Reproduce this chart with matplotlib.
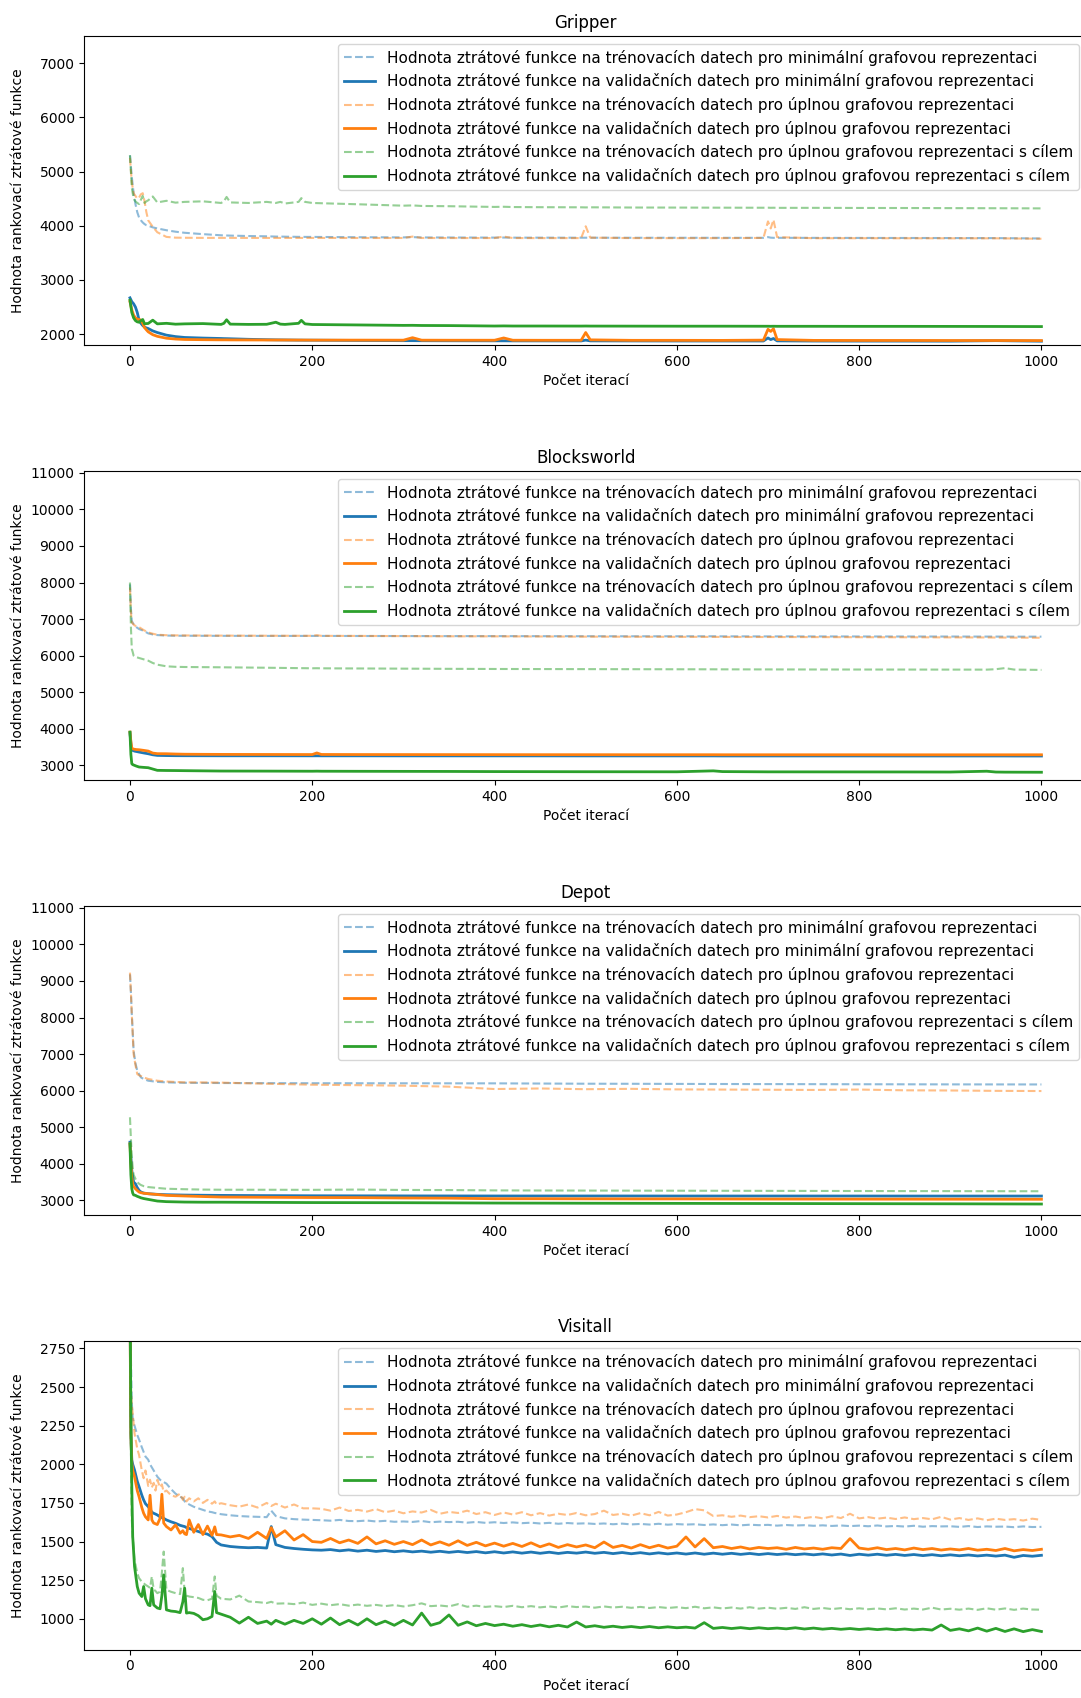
import matplotlib
matplotlib.use("Agg")
import matplotlib.pyplot as plt
import numpy as np

# ---------------- labels ----------------
titles = ["Gripper", "Blocksworld", "Depot", "Visitall"]
x_label = "Počet iterací"
y_label = "Hodnota rankovací ztrátové funkce"
legend_labels = [
    "Hodnota ztrátové funkce na trénovacích datech pro minimální grafovou reprezentaci",
    "Hodnota ztrátové funkce na validačních datech pro minimální grafovou reprezentaci",
    "Hodnota ztrátové funkce na trénovacích datech pro úplnou grafovou reprezentaci",
    "Hodnota ztrátové funkce na validačních datech pro úplnou grafovou reprezentaci",
    "Hodnota ztrátové funkce na trénovacích datech pro úplnou grafovou reprezentaci s cílem",
    "Hodnota ztrátové funkce na validačních datech pro úplnou grafovou reprezentaci s cílem",
]

# ---------------- Gripper ----------------
gripper_iters = [0, 2, 4, 6, 8, 10, 12, 14, 16, 18,
                 20, 25, 30, 40, 50, 60, 80, 100, 103, 106,
                 110, 130, 150, 160, 165, 170, 185, 188, 192, 200,
                 250, 300, 310, 320, 350, 400, 410, 420, 450, 495,
                 500, 505, 550, 600, 650, 695, 700, 703, 706, 710,
                 750, 800, 850, 900, 950, 1000]
gripper_train_min = [5300, 4900, 4600, 4400, 4250, 4150, 4100, 4060, 4030, 4010,
                     4000, 3970, 3950, 3917, 3890, 3870, 3845, 3824, 3822, 3820,
                     3818, 3810, 3805, 3800, 3800, 3798, 3795, 3795, 3794, 3794,
                     3788, 3785, 3790, 3784, 3783, 3781, 3782, 3780, 3780, 3779,
                     3779, 3779, 3778, 3778, 3777, 3777, 3790, 3780, 3777, 3777,
                     3776, 3775, 3774, 3773, 3772, 3765]
gripper_val_min = [2670, 2600, 2560, 2500, 2400, 2258, 2200, 2160, 2130, 2115,
                   2104, 2060, 2030, 1982, 1955, 1939, 1928, 1920, 1918, 1917,
                   1915, 1905, 1898, 1895, 1894, 1893, 1890, 1890, 1889, 1889,
                   1884, 1880, 1880, 1879, 1878, 1877, 1877, 1876, 1876, 1875,
                   1890, 1876, 1875, 1874, 1874, 1874, 1930, 1900, 1920, 1876,
                   1873, 1872, 1872, 1871, 1880, 1870]
gripper_train_full = [5250, 4800, 4600, 4550, 4500, 4520, 4580, 4600, 4450, 4250,
                      4100, 3980, 3880, 3794, 3780, 3778, 3776, 3776, 3776, 3776,
                      3776, 3775, 3775, 3775, 3775, 3775, 3775, 3775, 3775, 3775,
                      3774, 3774, 3800, 3774, 3773, 3773, 3800, 3773, 3772, 3772,
                      3990, 3780, 3772, 3771, 3771, 3775, 4080, 3950, 4110, 3790,
                      3770, 3770, 3769, 3768, 3768, 3760]
gripper_val_full = [2600, 2450, 2350, 2300, 2280, 2270, 2260, 2200, 2120, 2080,
                    2043, 1990, 1960, 1925, 1910, 1902, 1898, 1895, 1895, 1895,
                    1894, 1893, 1892, 1892, 1892, 1892, 1891, 1891, 1891, 1890,
                    1890, 1889, 1935, 1889, 1888, 1888, 1930, 1888, 1887, 1887,
                    2030, 1895, 1886, 1886, 1885, 1890, 2090, 2050, 2100, 1900,
                    1885, 1884, 1884, 1883, 1883, 1882]
gripper_train_goal = [5300, 4700, 4500, 4450, 4420, 4400, 4480, 4550, 4420, 4450,
                      4469, 4540, 4430, 4460, 4426, 4440, 4450, 4420, 4450, 4531,
                      4430, 4420, 4440, 4420, 4440, 4410, 4440, 4510, 4440, 4420,
                      4396, 4370, 4375, 4365, 4360, 4347, 4350, 4345, 4342, 4340,
                      4338, 4340, 4336, 4335, 4333, 4332, 4333, 4331, 4332, 4330,
                      4330, 4328, 4327, 4325, 4323, 4320]
gripper_val_goal = [2626, 2400, 2300, 2250, 2227, 2220, 2250, 2270, 2190, 2195,
                    2197, 2258, 2190, 2200, 2184, 2190, 2195, 2180, 2200, 2265,
                    2185, 2180, 2182, 2220, 2185, 2180, 2200, 2255, 2190, 2178,
                    2170, 2162, 2163, 2160, 2158, 2150, 2152, 2150, 2150, 2149,
                    2150, 2149, 2148, 2147, 2147, 2146, 2146, 2145, 2146, 2145,
                    2145, 2144, 2144, 2143, 2142, 2140]

# ---------------- Blocksworld ----------------
blocks_iters = [0, 1, 2, 3, 4, 5, 7, 10, 15, 20,
                25, 30, 40, 50, 60, 80, 100, 150, 200, 205,
                210, 250, 300, 350, 400, 450, 500, 550, 600, 640,
                650, 700, 750, 800, 850, 900, 940, 950, 960, 970,
                1000]
blocks_train_min = [7950, 7300, 6954, 6900, 6860, 6818, 6780, 6727, 6680, 6609,
                    6580, 6563, 6550, 6545, 6545, 6543, 6542, 6540, 6540, 6540,
                    6540, 6538, 6537, 6535, 6535, 6533, 6532, 6530, 6530, 6530,
                    6528, 6527, 6526, 6525, 6524, 6523, 6522, 6522, 6521, 6520,
                    6520]
blocks_val_min = [3891, 3600, 3420, 3409, 3400, 3390, 3380, 3364, 3340, 3318,
                  3290, 3273, 3268, 3265, 3264, 3263, 3262, 3262, 3261, 3262,
                  3261, 3261, 3260, 3260, 3260, 3260, 3259, 3259, 3259, 3259,
                  3258, 3258, 3258, 3258, 3257, 3257, 3257, 3257, 3257, 3256,
                  3256]
blocks_train_full = [7863, 7200, 6909, 6880, 6850, 6830, 6800, 6780, 6700, 6636,
                     6600, 6572, 6560, 6555, 6553, 6550, 6548, 6545, 6543, 6560,
                     6542, 6540, 6535, 6530, 6528, 6525, 6520, 6518, 6515, 6513,
                     6512, 6510, 6508, 6505, 6503, 6500, 6498, 6496, 6495, 6493,
                     6490]
blocks_val_full = [3909, 3650, 3460, 3455, 3445, 3440, 3432, 3427, 3410, 3391,
                   3336, 3320, 3318, 3310, 3305, 3302, 3300, 3298, 3296, 3340,
                   3298, 3296, 3295, 3294, 3293, 3292, 3292, 3291, 3291, 3291,
                   3290, 3290, 3290, 3290, 3289, 3289, 3289, 3289, 3289, 3289,
                   3290]
blocks_train_goal = [8000, 6800, 6182, 6100, 6000, 5980, 5960, 5936, 5900, 5863,
                     5800, 5754, 5709, 5695, 5690, 5686, 5682, 5670, 5655, 5657,
                     5654, 5650, 5645, 5640, 5636, 5634, 5632, 5630, 5628, 5627,
                     5626, 5624, 5622, 5621, 5620, 5619, 5618, 5630, 5660, 5620,
                     5610]
blocks_val_goal = [3909, 3300, 3045, 3020, 3010, 3000, 2980, 2955, 2945, 2936,
                   2900, 2864, 2860, 2858, 2855, 2850, 2845, 2843, 2840, 2842,
                   2840, 2838, 2836, 2834, 2830, 2828, 2826, 2825, 2824, 2850,
                   2830, 2823, 2822, 2821, 2820, 2818, 2840, 2818, 2815, 2814,
                   2812]

# ---------------- Depot ----------------
depot_iters = [0, 1, 2, 3, 4, 6, 8, 10, 12, 15,
               20, 30, 40, 60, 80, 100, 150, 200, 250, 300,
               350, 400, 450, 500, 550, 600, 650, 700, 750, 800,
               850, 900, 950, 1000]
depot_train_min = [9182, 8700, 8090, 7600, 7090, 6750, 6545, 6450, 6363, 6320,
                   6272, 6240, 6227, 6215, 6212, 6209, 6206, 6204, 6203, 6202,
                   6201, 6200, 6195, 6190, 6188, 6185, 6182, 6180, 6178, 6176,
                   6174, 6172, 6171, 6170]
depot_val_min = [4591, 4200, 3818, 3650, 3500, 3454, 3350, 3273, 3230, 3200,
                 3182, 3165, 3155, 3145, 3140, 3136, 3130, 3126, 3124, 3122,
                 3121, 3120, 3120, 3120, 3120, 3119, 3119, 3119, 3119, 3119,
                 3118, 3118, 3118, 3118]
depot_train_full = [9227, 8700, 8090, 7550, 7000, 6700, 6454, 6420, 6400, 6363,
                    6320, 6272, 6250, 6227, 6225, 6220, 6190, 6163, 6150, 6136,
                    6110, 6045, 6060, 6040, 6050, 6035, 6030, 6025, 6020, 6030,
                    6010, 6005, 5995, 5990]
depot_val_full = [4545, 4000, 3636, 3450, 3380, 3318, 3270, 3227, 3210, 3195,
                  3182, 3160, 3136, 3120, 3105, 3091, 3085, 3078, 3075, 3065,
                  3060, 3045, 3045, 3042, 3040, 3040, 3038, 3036, 3035, 3034,
                  3033, 3032, 3031, 3030]
depot_train_goal = [5272, 4700, 4182, 3900, 3700, 3591, 3500, 3454, 3420, 3390,
                    3364, 3340, 3318, 3305, 3295, 3291, 3290, 3288, 3295, 3285,
                    3282, 3273, 3270, 3268, 3266, 3264, 3262, 3260, 3258, 3256,
                    3254, 3253, 3251, 3250]
depot_val_goal = [4545, 3700, 3318, 3200, 3150, 3136, 3110, 3091, 3070, 3050,
                  3027, 2982, 2965, 2954, 2950, 2950, 2945, 2940, 2938, 2936,
                  2932, 2927, 2925, 2922, 2920, 2918, 2916, 2914, 2912, 2910,
                  2908, 2906, 2903, 2900]

# ---------------- Visitall ----------------
visitall_iters = [0, 1, 2, 3, 5, 8, 10, 13, 15, 17,
                  20, 22, 24, 26, 28, 30, 33, 35, 37, 40,
                  45, 50, 55, 58, 60, 62, 65, 70, 75, 80,
                  85, 90, 93, 95, 100, 110, 120, 130, 140, 150,
                  155, 160, 170, 180, 190, 200,
                  210, 220, 230, 240, 250, 260, 270, 280, 290, 300,
                  310, 320, 330, 340, 350, 360, 370, 380, 390, 400,
                  410, 420, 430, 440, 450, 460, 470, 480, 490, 500,
                  510, 520, 530, 540, 550, 560, 570, 580, 590, 600,
                  610, 620, 630, 640, 650, 660, 670, 680, 690, 700,
                  710, 720, 730, 740, 750, 760, 770, 780, 790, 800,
                  810, 820, 830, 840, 850, 860, 870, 880, 890, 900,
                  910, 920, 930, 940, 950, 960, 970, 980, 990, 1000]
visitall_train_min = [3400, 2700, 2400, 2300, 2250, 2190, 2160, 2110, 2080, 2050,
                      2030, 2000, 1980, 1960, 1940, 1920, 1900, 1890, 1885, 1875,
                      1840, 1810, 1790, 1780, 1760, 1750, 1740, 1725, 1715, 1705,
                      1695, 1690, 1685, 1683, 1677, 1670, 1665, 1662, 1660, 1658,
                      1700, 1665, 1650, 1645, 1642, 1640,
                      1638, 1635, 1640, 1633, 1632, 1636, 1630, 1634, 1628, 1630,
                      1627, 1633, 1625, 1629, 1626, 1628, 1622, 1627, 1621, 1625,
                      1620, 1624, 1619, 1622, 1617, 1621, 1615, 1620, 1616, 1618,
                      1614, 1617, 1612, 1616, 1611, 1614, 1610, 1615, 1609, 1613,
                      1610, 1612, 1607, 1611, 1606, 1610, 1605, 1609, 1606, 1608,
                      1603, 1607, 1604, 1606, 1602, 1605, 1601, 1604, 1600, 1603,
                      1599, 1604, 1598, 1601, 1597, 1602, 1596, 1600, 1598, 1599,
                      1595, 1600, 1594, 1598, 1596, 1597, 1593, 1598, 1594, 1595]
visitall_val_min = [3100, 2200, 2028, 2000, 1963, 1890, 1855, 1800, 1769, 1745,
                    1726, 1710, 1690, 1683, 1678, 1672, 1660, 1655, 1650, 1640,
                    1628, 1618, 1605, 1600, 1597, 1590, 1585, 1575, 1565, 1555,
                    1548, 1532, 1510, 1495, 1478, 1468, 1463, 1460, 1462, 1458,
                    1597, 1480, 1462, 1455, 1450, 1446,
                    1444, 1448, 1440, 1446, 1438, 1444, 1436, 1442, 1434, 1440,
                    1433, 1438, 1431, 1437, 1430, 1436, 1429, 1435, 1427, 1434,
                    1426, 1433, 1425, 1432, 1424, 1431, 1423, 1430, 1425, 1432,
                    1424, 1430, 1422, 1429, 1421, 1428, 1420, 1427, 1420, 1426,
                    1419, 1426, 1418, 1425, 1418, 1424, 1417, 1423, 1416, 1422,
                    1416, 1421, 1415, 1420, 1414, 1420, 1413, 1419, 1410, 1418,
                    1412, 1418, 1411, 1417, 1410, 1416, 1409, 1415, 1408, 1414,
                    1408, 1413, 1407, 1412, 1406, 1412, 1398, 1410, 1405, 1411]
visitall_train_full = [3300, 2500, 2380, 2330, 2200, 2100, 2060, 1960, 1910, 1960,
                       1860, 1900, 1850, 1880, 1830, 1900, 1850, 1870, 1820, 1830,
                       1800, 1790, 1810, 1770, 1790, 1760, 1780, 1760, 1780, 1750,
                       1770, 1745, 1760, 1740, 1748, 1735, 1726, 1740, 1720, 1750,
                       1730, 1745, 1720, 1740, 1715, 1715,
                       1712, 1700, 1720, 1698, 1705, 1694, 1710, 1690, 1700, 1683,
                       1695, 1688, 1705, 1680, 1692, 1685, 1700, 1678, 1690, 1672,
                       1688, 1675, 1690, 1670, 1684, 1668, 1680, 1672, 1685, 1670,
                       1678, 1700, 1672, 1680, 1668, 1684, 1670, 1692, 1668, 1675,
                       1690, 1710, 1702, 1665, 1670, 1660, 1668, 1658, 1664, 1656,
                       1666, 1655, 1662, 1652, 1660, 1650, 1664, 1652, 1680, 1650,
                       1658, 1648, 1655, 1646, 1656, 1645, 1652, 1644, 1660, 1642,
                       1652, 1640, 1650, 1638, 1648, 1640, 1645, 1636, 1648, 1640]
visitall_val_full = [3000, 2200, 2006, 1960, 1920, 1830, 1790, 1720, 1683, 1660,
                     1640, 1800, 1640, 1620, 1615, 1610, 1650, 1806, 1620, 1597,
                     1575, 1608, 1554, 1570, 1550, 1545, 1640, 1560, 1610, 1545,
                     1600, 1540, 1595, 1545, 1543, 1530, 1540, 1520, 1560, 1520,
                     1590, 1530, 1570, 1510, 1545, 1500,
                     1495, 1520, 1492, 1510, 1488, 1530, 1485, 1505, 1482, 1500,
                     1480, 1510, 1478, 1498, 1476, 1505, 1475, 1495, 1472, 1490,
                     1470, 1488, 1468, 1492, 1466, 1485, 1462, 1480, 1465, 1478,
                     1460, 1497, 1462, 1475, 1458, 1480, 1460, 1476, 1458, 1470,
                     1530, 1465, 1519, 1460, 1468, 1455, 1465, 1452, 1462, 1455,
                     1460, 1450, 1462, 1452, 1458, 1450, 1460, 1455, 1519, 1458,
                     1450, 1460, 1448, 1455, 1446, 1458, 1448, 1455, 1445, 1452,
                     1446, 1455, 1444, 1450, 1442, 1455, 1440, 1448, 1442, 1450]
visitall_train_goal = [3500, 2100, 1640, 1532, 1381, 1295, 1263, 1240, 1230, 1220,
                       1209, 1200, 1274, 1190, 1180, 1166, 1175, 1300, 1435, 1187,
                       1175, 1166, 1160, 1328, 1170, 1150, 1144, 1140, 1135, 1123,
                       1120, 1130, 1274, 1150, 1130, 1125, 1150, 1112, 1108, 1102,
                       1110, 1098, 1100, 1095, 1105, 1090,
                       1098, 1088, 1095, 1085, 1092, 1084, 1090, 1082, 1089, 1080,
                       1088, 1100, 1082, 1086, 1080, 1095, 1078, 1085, 1077, 1082,
                       1076, 1084, 1075, 1082, 1074, 1080, 1073, 1082, 1076, 1079,
                       1072, 1080, 1073, 1078, 1071, 1077, 1070, 1076, 1070, 1075,
                       1069, 1078, 1068, 1074, 1067, 1073, 1066, 1075, 1066, 1072,
                       1065, 1071, 1064, 1075, 1064, 1070, 1063, 1069, 1062, 1068,
                       1062, 1067, 1061, 1068, 1060, 1066, 1060, 1072, 1060, 1065,
                       1059, 1066, 1058, 1068, 1059, 1067, 1058, 1066, 1060, 1059]
visitall_val_goal = [3200, 2287, 1855, 1532, 1338, 1209, 1166, 1144, 1209, 1130,
                     1090, 1085, 1198, 1090, 1080, 1070, 1065, 1150, 1284, 1058,
                     1050, 1047, 1040, 1110, 1198, 1037, 1040, 1035, 1020, 994,
                     1000, 1015, 1177, 1040, 1030, 1010, 972, 1010, 970, 985,
                     965, 990, 965, 990, 970, 1000,
                     965, 1005, 962, 990, 960, 1000, 962, 985, 958, 990,
                     960, 1037, 958, 975, 1025, 958, 980, 955, 970, 956,
                     965, 952, 962, 950, 960, 948, 958, 947, 979, 947,
                     955, 945, 952, 944, 950, 943, 950, 942, 948, 942,
                     946, 940, 975, 938, 944, 937, 943, 936, 942, 936,
                     940, 935, 942, 934, 940, 933, 938, 932, 937, 931,
                     936, 930, 935, 929, 934, 928, 933, 927, 960, 925,
                     935, 922, 940, 920, 938, 918, 935, 917, 930, 918]

# ---------------- assemble ----------------
charts = [
    (gripper_iters, [gripper_train_min, gripper_val_min, gripper_train_full,
                     gripper_val_full, gripper_train_goal, gripper_val_goal]),
    (blocks_iters, [blocks_train_min, blocks_val_min, blocks_train_full,
                    blocks_val_full, blocks_train_goal, blocks_val_goal]),
    (depot_iters, [depot_train_min, depot_val_min, depot_train_full,
                   depot_val_full, depot_train_goal, depot_val_goal]),
    (visitall_iters, [visitall_train_min, visitall_val_min, visitall_train_full,
                      visitall_val_full, visitall_train_goal, visitall_val_goal]),
]
y_limits = [(1800, 7500), (2600, 11050), (2600, 11050), (800, 2800)]
series_colors = ["C0", "C0", "C1", "C1", "C2", "C2"]

W, H = 1081, 1698
fig = plt.figure(figsize=(W / 100, H / 100), dpi=100)

ax_left_px = 84.4
ax_right_px = 1087.0
ax_left = ax_left_px / W
ax_width = (ax_right_px - ax_left_px) / W
ax_height = 309.0 / H
ax_bottoms_px = [345.0, 780.0, 1215.0, 1649.7]
ylabel_x = (25.0 - ax_left_px) / (ax_right_px - ax_left_px)

for i, (iters, series) in enumerate(charts):
    ax = fig.add_axes([ax_left, (H - ax_bottoms_px[i]) / H, ax_width, ax_height])
    for j, ys in enumerate(series):
        if j % 2 == 0:
            ax.plot(iters, ys, linestyle="--", color=series_colors[j],
                    alpha=0.5, linewidth=1.5, label=legend_labels[j])
        else:
            ax.plot(iters, ys, linestyle="-", color=series_colors[j],
                    linewidth=2, label=legend_labels[j])
    ax.set_xlim(-50, 1050)
    ax.set_ylim(*y_limits[i])
    ax.set_title(titles[i], fontsize=12)
    ax.set_xlabel(x_label)
    ax.set_ylabel(y_label)
    ax.yaxis.set_label_coords(ylabel_x, 0.5)
    ax.legend(loc="upper right", fontsize=11)

fig.savefig("out.png", dpi=100)
